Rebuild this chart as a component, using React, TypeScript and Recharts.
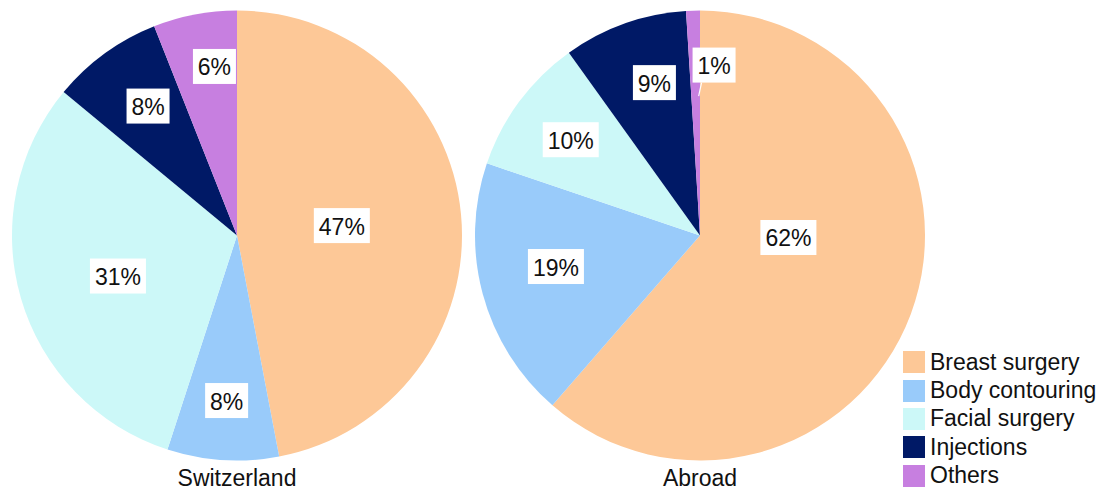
import React from "react";
import { PieChart, Pie, Cell, Legend } from "recharts";

const categories = [
  "Breast surgery",
  "Body contouring",
  "Facial surgery",
  "Injections",
  "Others",
];
const switzerland = [47, 8, 31, 8, 6];
const abroad = [62, 19, 10, 9, 1];
const groups = ["Switzerland", "Abroad"];

const colors = ["#FDC897", "#99CBFA", "#CCF8F8", "#001966", "#C77FE0"];

// label placement (radius fraction, clockwise angle shift) per slice
const leftLabelPos = [
  [0.468, 0],
  [0.735, 0],
  [0.559, -2.6],
  [0.698, 1.5],
  [0.758, 3.2],
];
const rightLabelPos = [
  [0.393, -19.2],
  [0.655, 3],
  [0.715, 0],
  [0.709, 3],
  [0.76, 6.5],
];

const FONT = "'Liberation Sans', Arial, sans-serif";
const RAD = Math.PI / 180;

const toRows = (vals: number[]) =>
  categories.map((name, i) => ({ name, value: vals[i] }));

const makeLabel = (pos: number[][]) => (props: any) => {
  const { cx, cy, midAngle, outerRadius, index, value } = props;
  const [f, shift] = pos[index];
  const ang = (midAngle - shift) * RAD;
  const r = outerRadius * f;
  const x = cx + r * Math.cos(ang);
  const y = cy - r * Math.sin(ang);
  const txt = `${value}%`;
  const w = txt.length === 2 ? 43 : 56;
  // tiny slices get a short leader line into the slice
  let leader = null;
  if (value < 2) {
    const lr = outerRadius * 0.62;
    const lx = cx + lr * Math.cos(midAngle * RAD);
    const ly = cy - lr * Math.sin(midAngle * RAD);
    leader = (
      <line
        x1={x - w / 2 + 9}
        y1={y + 17.5}
        x2={lx + 3}
        y2={ly}
        stroke="#fff"
        strokeWidth={1.2}
      />
    );
  }
  return (
    <g key={`lbl-${index}`}>
      {leader}
      <rect x={x - w / 2} y={y - 17.5} width={w} height={35} fill="#fff" />
      <text
        x={x}
        y={y + 1}
        textAnchor="middle"
        dominantBaseline="central"
        fontSize={23}
        fontFamily={FONT}
        fill="#111"
      >
        {txt}
      </text>
    </g>
  );
};

const LegendBox = () => (
  <div style={{ fontFamily: FONT, fontSize: 23, color: "#111" }}>
    {categories.map((c, i) => (
      <div
        key={c}
        style={{ display: "flex", alignItems: "center", height: 28.4 }}
      >
        <div
          style={{
            width: 22,
            height: 22,
            background: colors[i],
            marginRight: 5,
          }}
        />
        <span style={{ lineHeight: "23px" }}>{c}</span>
      </div>
    ))}
  </div>
);

export default function App() {
  return (
    <div style={{ position: "relative", width: 1117, height: 492 }}>
      <style>{`body{margin:0;background:#fff}`}</style>
      <PieChart
        width={1117}
        height={492}
        margin={{ top: 0, right: 0, bottom: 0, left: 0 }}
      >
        <Pie
          data={toRows(switzerland)}
          dataKey="value"
          nameKey="name"
          cx={237}
          cy={235.5}
          outerRadius={225}
          startAngle={90}
          endAngle={-270}
          stroke="none"
          label={makeLabel(leftLabelPos)}
          labelLine={false}
          isAnimationActive={false}
        >
          {switzerland.map((_, i) => (
            <Cell key={i} fill={colors[i]} />
          ))}
        </Pie>
        <Pie
          data={toRows(abroad)}
          dataKey="value"
          nameKey="name"
          cx={700}
          cy={235.5}
          outerRadius={225}
          startAngle={90}
          endAngle={-270}
          stroke="none"
          label={makeLabel(rightLabelPos)}
          labelLine={false}
          isAnimationActive={false}
        >
          {abroad.map((_, i) => (
            <Cell key={i} fill={colors[i]} />
          ))}
        </Pie>
        <Legend
          content={() => <LegendBox />}
          wrapperStyle={{
            position: "absolute",
            left: 903,
            top: 348,
            width: 210,
          }}
        />
      </PieChart>
      {groups.map((g, i) => (
        <div
          key={g}
          style={{
            position: "absolute",
            left: i === 0 ? 137 : 600,
            width: 200,
            top: 465,
            textAlign: "center",
            fontFamily: FONT,
            fontSize: 23,
            color: "#111",
          }}
        >
          {g}
        </div>
      ))}
    </div>
  );
}
